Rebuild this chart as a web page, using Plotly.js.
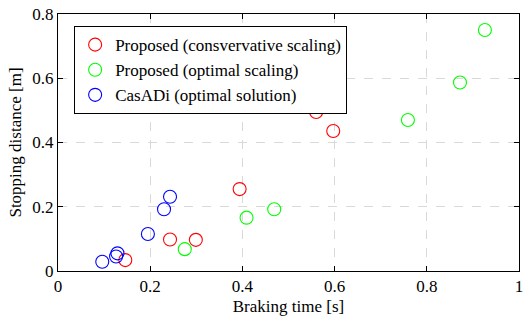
<!DOCTYPE html>
<html>
<head>
<meta charset="utf-8">
<script src="https://cdn.plot.ly/plotly-3.0.1.min.js"></script>
<style>
.js-plotly-plot .plotly text { font-family: 'Liberation Serif', serif !important; fill: #000 !important; }
</style>
</head>
<body style="margin:0">
<div id="chart" style="width:524px;height:316px"></div>
<script>
var consX = [0.146, 0.243, 0.299, 0.394, 0.560, 0.597];
var consY = [0.034, 0.098, 0.097, 0.255, 0.495, 0.436];
var optX = [0.275, 0.409, 0.469, 0.759, 0.872, 0.926];
var optY = [0.068, 0.166, 0.192, 0.470, 0.587, 0.750];
var casX = [0.096, 0.126, 0.129, 0.195, 0.230, 0.243];
var casY = [0.029, 0.045, 0.055, 0.115, 0.192, 0.231];
var traceNames = ['Proposed (consvervative scaling)', 'Proposed (optimal scaling)', 'CasADi (optimal solution)'];
var traceColors = ['#ff0000', '#00ff00', '#0000ff'];
var xTicks = [0, 0.2, 0.4, 0.6, 0.8, 1];
var yTicks = [0, 0.2, 0.4, 0.6, 0.8];

function mk(x, y, i) {
  return {
    x: x, y: y, name: traceNames[i], type: 'scatter', mode: 'markers',
    marker: {symbol: 'circle-open', size: 13, color: traceColors[i], line: {width: 1.1, color: traceColors[i]}}
  };
}
var data = [mk(consX, consY, 0), mk(optX, optY, 1), mk(casX, casY, 2)];

var layout = {
  width: 524, height: 316,
  margin: {l: 58, r: 5, t: 14, b: 45},
  font: {family: 'Liberation Serif', size: 17},
  xaxis: {
    range: [0, 1], tickvals: xTicks, ticktext: xTicks.map(String),
    showline: true, mirror: 'ticks', linecolor: 'black', linewidth: 1,
    ticks: 'inside', ticklen: 5, tickcolor: 'black',
    showgrid: true, gridcolor: '#d9d9d9', griddash: 'dash', zeroline: false,
    tickfont: {family: 'Liberation Serif', size: 17},
    title: {text: 'Braking time [s]', font: {family: 'Liberation Serif', size: 17}, standoff: 4}
  },
  yaxis: {
    range: [0, 0.8], tickvals: yTicks, ticktext: yTicks.map(String),
    showline: true, mirror: 'ticks', linecolor: 'black', linewidth: 1,
    ticks: 'inside', ticklen: 5, tickcolor: 'black',
    showgrid: true, gridcolor: '#d9d9d9', griddash: 'dash', zeroline: false,
    tickfont: {family: 'Liberation Serif', size: 17},
    title: {text: 'Stopping distance [m]', font: {family: 'Liberation Serif', size: 17}, standoff: 6}
  },
  showlegend: true,
  legend: {
    x: 0.035, y: 0.953, xanchor: 'left', yanchor: 'top',
    bgcolor: 'white', bordercolor: 'black', borderwidth: 1,
    font: {family: 'Liberation Serif', size: 17},
    tracegroupgap: 0
  }
};
Plotly.newPlot('chart', data, layout, {displayModeBar: false});
</script>
</body>
</html>
